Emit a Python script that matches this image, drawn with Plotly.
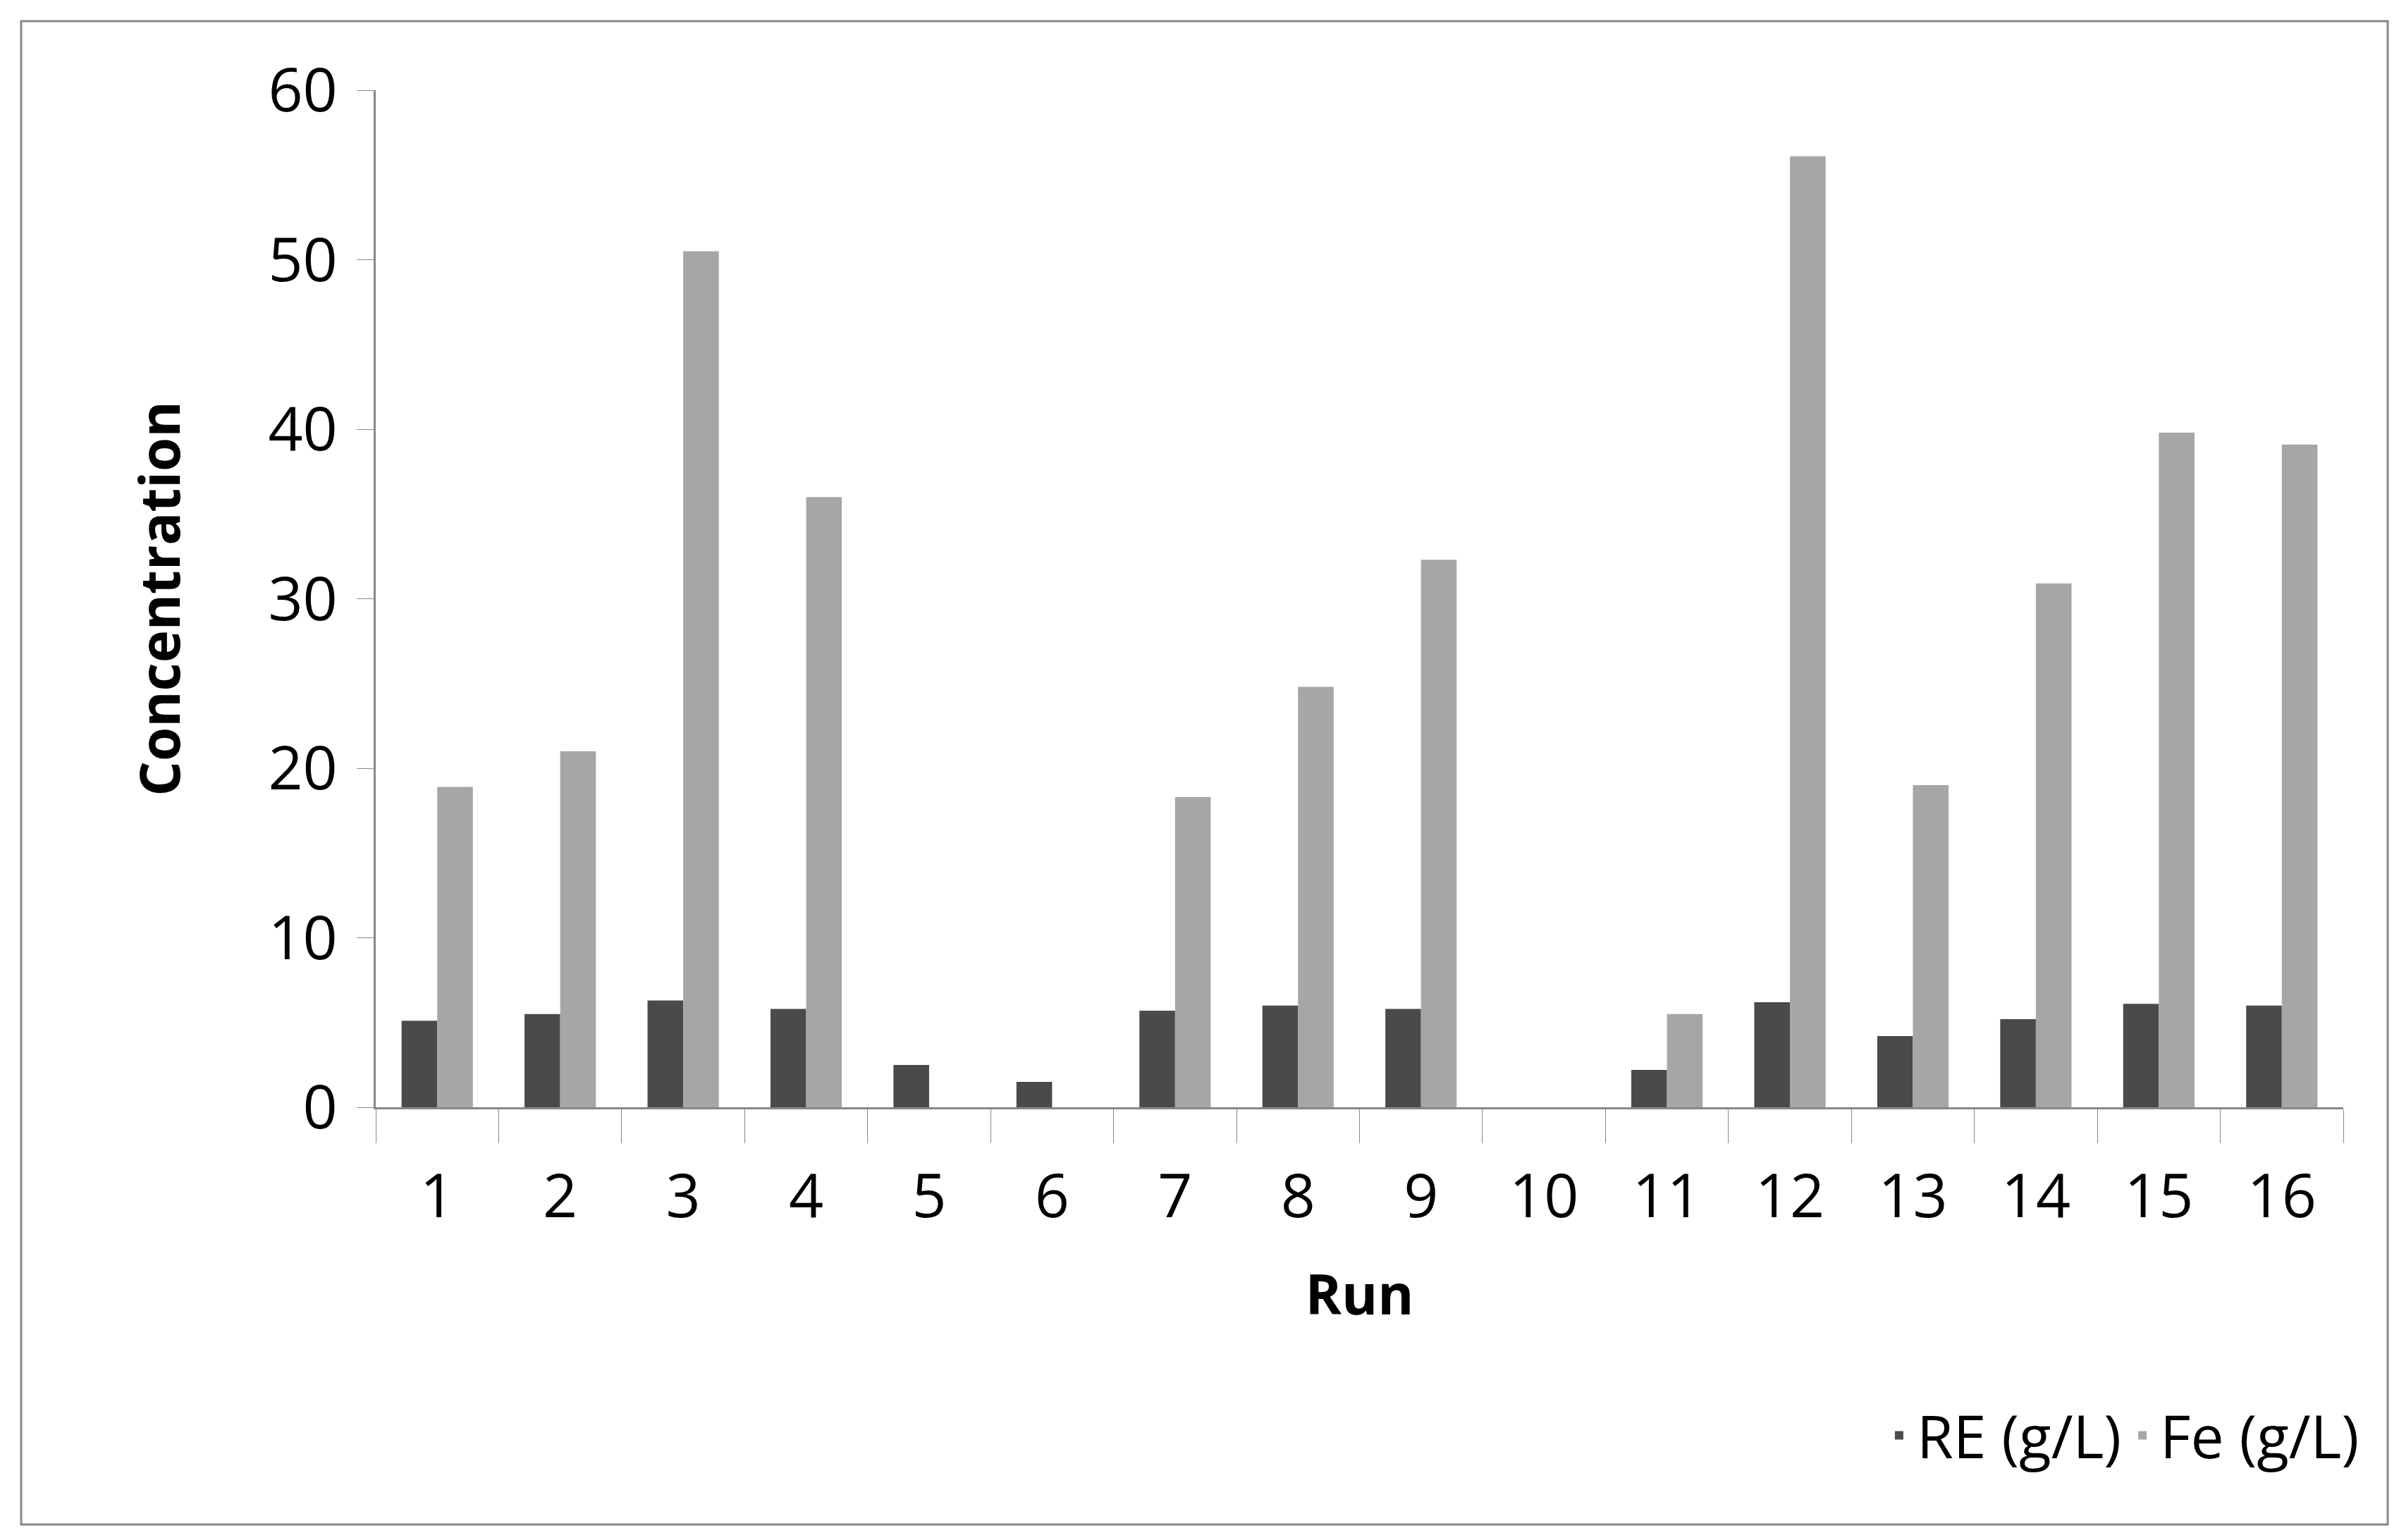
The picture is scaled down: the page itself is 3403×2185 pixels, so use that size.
import plotly.graph_objects as go

runs = [str(i) for i in range(1, 17)]
re_vals = [5.1, 5.5, 6.3, 5.8, 2.5, 1.5, 5.7, 6.0, 5.8, 0, 2.2, 6.2, 4.2, 5.2, 6.1, 6.0]
fe_vals = [18.9, 21.0, 50.5, 36.0, 0, 0, 18.3, 24.8, 32.3, 0, 5.5, 56.1, 19.0, 30.9, 39.8, 39.1]

W, H = 3403, 2185
L, R, T, B = 525, 3316, 120, 1563
pw, ph = R - L, B - T
def px(x): return (x - L) / pw
def py(y): return (B - y) / ph

font = "Open Sans, Liberation Sans, sans-serif"
fig = go.Figure()
fig.add_bar(x=runs, y=re_vals, name="RE (g/L)", marker=dict(color="#4a4a4a", line=dict(width=0)))
fig.add_bar(x=runs, y=fe_vals, name="Fe (g/L)", marker=dict(color="#a6a6a6", line=dict(width=0)))
fig.update_layout(
    width=W, height=H, autosize=False,
    margin=dict(l=L, r=W - R, t=T, b=H - B),
    paper_bgcolor="white", plot_bgcolor="white",
    barmode="group", bargap=0.42, bargroupgap=0,
    font=dict(family=font, size=86, color="black"),
    xaxis=dict(type="category", tickson="boundaries", ticks="outside", ticklen=48,
               tickcolor="#888", showline=True, linecolor="#888", linewidth=3,
               ticklabelstandoff=50,
               title=dict(text="<b>Run</b>", font=dict(size=78), standoff=60),
               tickfont=dict(size=86)),
    yaxis=dict(range=[0, 60], dtick=10, ticks="outside", ticklen=24, tickcolor="#888",
               showline=True, linecolor="#888", linewidth=3, showgrid=False, zeroline=False,
               ticklabelstandoff=10,
               title=dict(text="<b>Concentration</b>", font=dict(size=78), standoff=100),
               tickfont=dict(size=86)),
    legend=dict(orientation="h", x=1.01, xanchor="right", y=py(2029), yanchor="middle",
                font=dict(size=84), itemwidth=40),
    shapes=[dict(type="rect", xref="paper", yref="paper",
                 x0=px(22), x1=px(3379), y0=py(2155), y1=py(22),
                 line=dict(color="#888", width=3))],
)
fig.write_html("out.html")
